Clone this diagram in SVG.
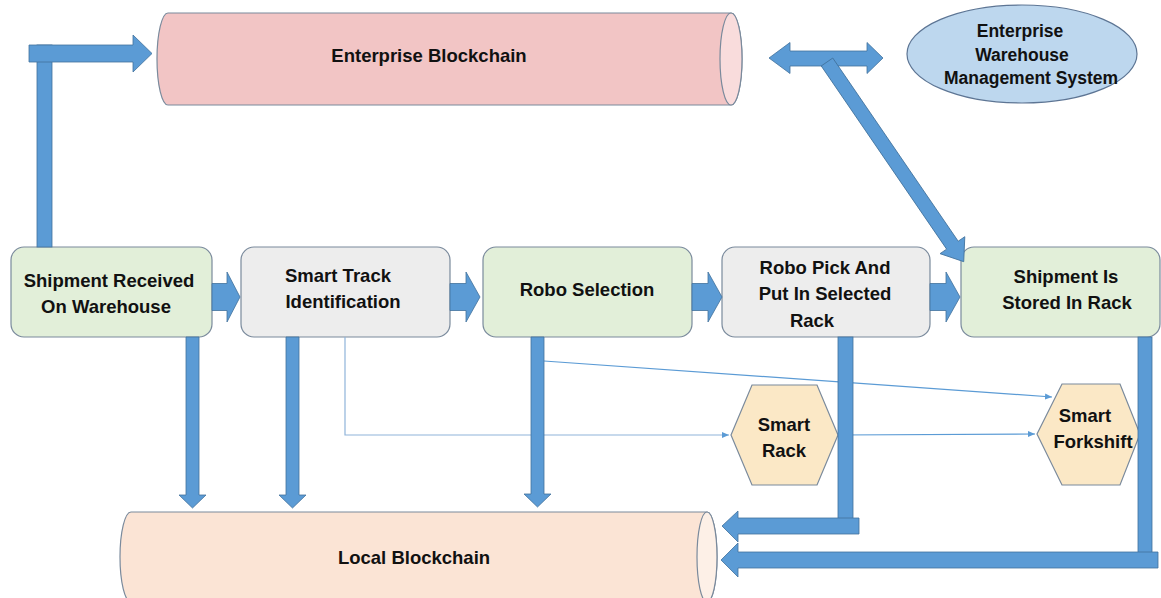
<svg xmlns="http://www.w3.org/2000/svg" width="1161" height="598" viewBox="0 0 1161 598">
  <defs>
    <style>
      .lbl { font-family: "Liberation Sans", Arial, sans-serif; font-weight: bold; font-size: 18.5px; fill: #111; text-anchor: middle; }
      .lbl-s { font-size: 17.5px; }
      .box { stroke: #7a8a9c; stroke-width: 1.2; }
      .green { fill: #e2efd9; }
      .grey { fill: #ededed; }
      .hex { fill: #fbe8c6; stroke: #7a8a9c; stroke-width: 1.2; }
      .blk { fill: #5b9bd5; stroke: #41719c; stroke-width: 0.8; }
      .thin { fill: none; stroke: #5b9bd5; stroke-width: 1.2; }
      .thin-lt { fill: none; stroke: #8fb4da; stroke-width: 1.2; }
    </style>
    <marker id="tip" markerWidth="8" markerHeight="8" refX="7" refY="4" orient="auto" markerUnits="userSpaceOnUse">
      <path d="M0,1 L7,4 L0,7 Z" fill="#5b9bd5"/>
    </marker>
  </defs>

  <rect width="1161" height="598" fill="#ffffff"/>

  <!-- ledgers -->
  <g id="enterprise-blockchain">
    <path d="M168,13 H731 A11,46 0 0 1 731,105 H168 A11,46 0 0 1 168,13 Z" fill="#f2c5c5" stroke="#7a8a9c" stroke-width="1.2"/>
    <ellipse cx="731" cy="59" rx="11" ry="46" fill="#f9dcdc" stroke="#7a8a9c" stroke-width="1.2"/>
    <text class="lbl" x="429" y="62">Enterprise Blockchain</text>
  </g>

  <g id="local-blockchain">
    <path d="M131,512 H707 A10,45 0 0 1 707,602 H131 A11,45 0 0 1 131,512 Z" fill="#fbe4d5" stroke="#7a8a9c" stroke-width="1.2"/>
    <ellipse cx="707" cy="557" rx="10" ry="45" fill="#fdf0e7" stroke="#7a8a9c" stroke-width="1.2"/>
    <text class="lbl" x="414" y="564">Local Blockchain</text>
  </g>

  <g id="enterprise-wms">
    <ellipse cx="1022" cy="54" rx="115" ry="49" fill="#bdd7ee" stroke="#5d7594" stroke-width="1.2"/>
    <text class="lbl lbl-s" x="1020" y="37">Enterprise</text>
    <text class="lbl lbl-s" x="1022" y="61">Warehouse</text>
    <text class="lbl lbl-s" x="1031" y="84">Management System</text>
  </g>

  <!-- process steps -->
  <g id="shipment-received">
    <rect class="box green" x="11" y="247" width="201" height="90" rx="13"/>
    <text class="lbl" x="109" y="287">Shipment Received</text>
    <text class="lbl" x="106" y="313">On Warehouse</text>
  </g>

  <g id="smart-track">
    <rect class="box grey" x="241" y="247" width="209" height="90" rx="13"/>
    <text class="lbl" x="338" y="282">Smart Track</text>
    <text class="lbl" x="343" y="308">Identification</text>
  </g>

  <g id="robo-selection">
    <rect class="box green" x="483" y="247" width="209" height="90" rx="13"/>
    <text class="lbl" x="587" y="296">Robo Selection</text>
  </g>

  <g id="robo-pick">
    <rect class="box grey" x="722" y="247" width="208" height="90" rx="13"/>
    <text class="lbl" x="825" y="274">Robo Pick And</text>
    <text class="lbl" x="825" y="300">Put In Selected</text>
    <text class="lbl" x="812" y="327">Rack</text>
  </g>

  <g id="shipment-stored">
    <rect class="box green" x="961" y="247" width="199" height="90" rx="13"/>
    <text class="lbl" x="1066" y="283">Shipment Is</text>
    <text class="lbl" x="1067" y="309">Stored In Rack</text>
  </g>

  <!-- devices -->
  <g id="smart-rack">
    <polygon class="hex" points="731,435 752,385 817,385 838,435 817,485 752,485"/>
    <text class="lbl" x="784" y="431">Smart</text>
    <text class="lbl" x="784" y="457">Rack</text>
  </g>

  <g id="smart-forkshift">
    <polygon class="hex" points="1037,434 1062,384 1120,384 1140,434 1120,485 1062,485"/>
    <text class="lbl" x="1085" y="422">Smart</text>
    <text class="lbl" x="1093" y="448">Forkshift</text>
  </g>

  <!-- connectors -->
  <g id="connectors">
    <!-- thin signal lines -->
    <polyline class="thin-lt" points="345,337 345,435 729,435" marker-end="url(#tip)"/>
    <line class="thin" x1="544" y1="361" x2="1052" y2="397" marker-end="url(#tip)"/>
    <line class="thin" x1="838" y1="435" x2="1035" y2="434" marker-end="url(#tip)"/>

    <!-- receipt to enterprise ledger -->
    <rect class="blk" x="37" y="45" width="15" height="202"/>
    <polygon class="blk" points="29,45 133,45 133,35 152,53.5 133,72 133,62 29,62"/>

    <!-- step to step -->
    <polygon class="blk" points="212,283.5 227,283.5 227,272 240,297 227,322 227,310.5 212,310.5"/>
    <polygon class="blk" points="450,283.5 466,283.5 466,272 480,297 466,322 466,310.5 450,310.5"/>
    <polygon class="blk" points="692,283.5 708,283.5 708,272 722,297 708,322 708,310.5 692,310.5"/>
    <polygon class="blk" points="930,283.5 946,283.5 946,272 960,297 946,322 946,310.5 930,310.5"/>

    <!-- steps to local ledger -->
    <polygon class="blk" points="186,337 199,337 199,495 206,495 192.5,508 179,495 186,495"/>
    <polygon class="blk" points="286,337 299,337 299,495 306,495 292.5,508 279,495 286,495"/>
    <polygon class="blk" points="531,337 544,337 544,494 551,494 537.5,507 524,494 531,494"/>

    <rect class="blk" x="838" y="337" width="15" height="182"/>
    <polygon class="blk" points="859,518 738,518 738,511 722,526 738,542 738,534 859,534"/>

    <rect class="blk" x="1138" y="337" width="14" height="216"/>
    <polygon class="blk" points="1158,552 738,552 738,543 721,560 738,577 738,568 1158,568"/>

    <!-- enterprise ledger and WMS -->
    <polygon class="blk" points="769,58 790,42.5 790,51 867,51 867,42.5 883,58 867,73.5 867,66 790,66 790,73.5"/>
    <polygon class="blk" transform="translate(827,62) rotate(55.6)" points="0,-7 222,-7 222,-15 242,0 222,15 222,7 0,7"/>
  </g>
</svg>
